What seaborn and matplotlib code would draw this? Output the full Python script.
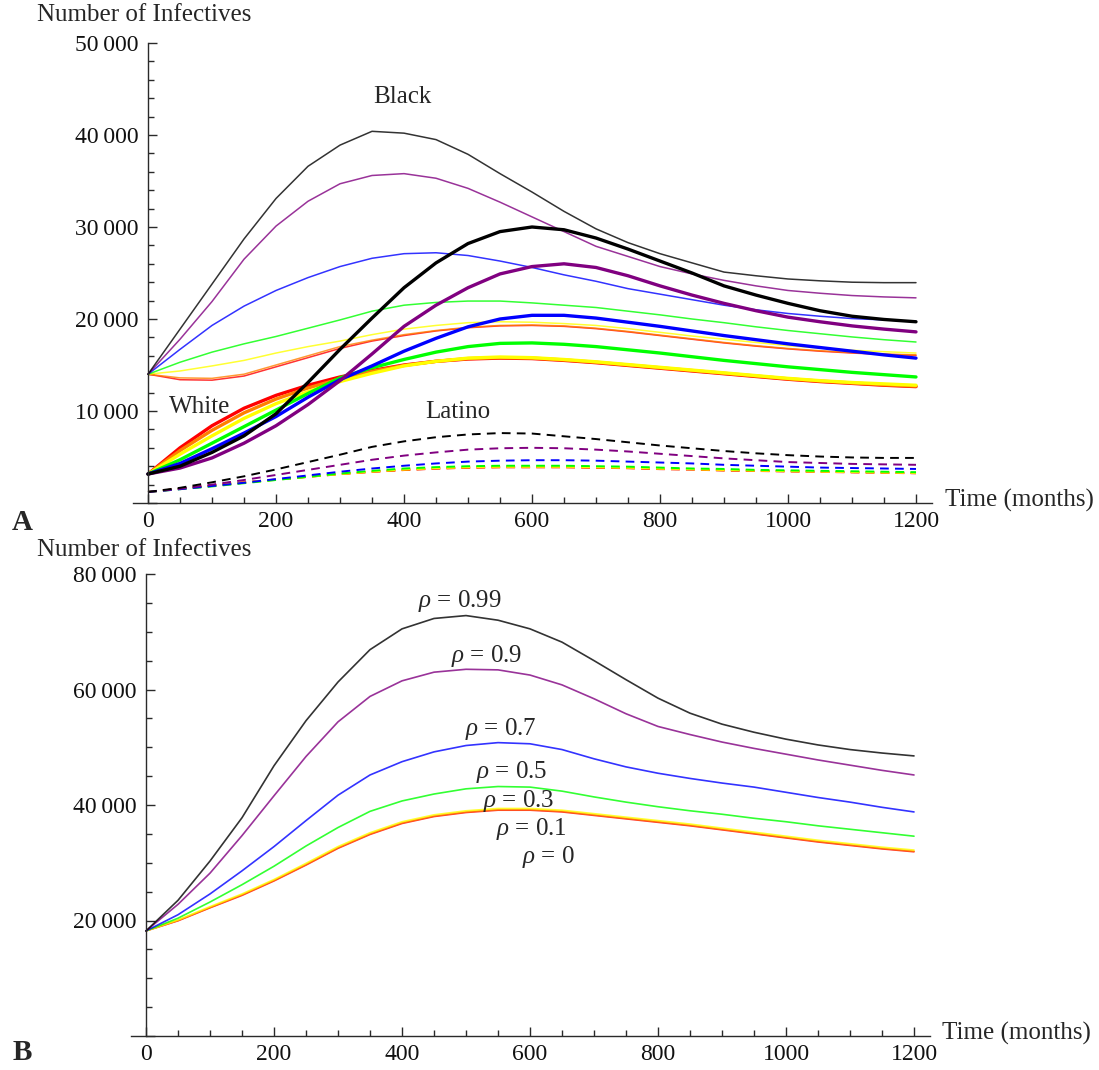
import matplotlib
matplotlib.use('Agg')  # no display
import matplotlib.pyplot as plt
from matplotlib.ticker import MultipleLocator, FuncFormatter
import seaborn as sns

# ---- data (time grid every 50 months) ----
months = list(range(0, 1201, 50))
rho_values = [0.99, 0.9, 0.7, 0.5, 0.3, 0.1, 0]
rho_colors = ['#000000', '#800080', '#0000ff', '#00ff00', '#ffff00', '#ff8000', '#ff0000']

# panel A, Black population (thin lines)
black_099 = [14000, 18900, 23800, 28700, 33100, 36600, 38900, 40400, 40200, 39500, 37900, 35800, 33800,
             31700, 29800, 28300, 27100, 26100, 25100, 24700, 24350, 24150, 24000, 23950, 23950]
black_09 = [14000, 17800, 21900, 26500, 30100, 32800, 34700, 35600, 35800, 35300, 34200, 32700, 31100,
            29500, 27900, 26800, 25700, 24900, 24200, 23600, 23100, 22800, 22550, 22400, 22300]
black_07 = [14000, 16700, 19300, 21400, 23100, 24500, 25700, 26600, 27100, 27200, 26900, 26300, 25600,
            24800, 24100, 23300, 22700, 22100, 21500, 21000, 20600, 20300, 20050, 19900, 19750]
black_05 = [14000, 15300, 16400, 17300, 18100, 19000, 19900, 20850, 21500, 21800, 21950, 21950, 21750,
            21500, 21250, 20850, 20450, 20000, 19600, 19150, 18750, 18400, 18050, 17750, 17500]
black_03 = [14000, 14350, 14900, 15500, 16300, 17000, 17600, 18300, 18900, 19300, 19600, 19700, 19650,
            19500, 19300, 18950, 18550, 18150, 17800, 17450, 17100, 16850, 16600, 16450, 16300]
black_01 = [14000, 13600, 13550, 14000, 15000, 16000, 17000, 17700, 18300, 18750, 19100, 19300, 19350,
            19250, 19000, 18650, 18250, 17850, 17450, 17100, 16800, 16550, 16350, 16200, 16100]
black_0 = [14000, 13400, 13350, 13800, 14800, 15800, 16800, 17600, 18200, 18700, 19050, 19250, 19300,
           19200, 18950, 18600, 18200, 17800, 17400, 17050, 16750, 16500, 16300, 16150, 16050]

# panel A, White population (thick lines)
white_099 = [3150, 4000, 5500, 7300, 9700, 13100, 16700, 20100, 23400, 26100, 28200, 29500, 30000,
             29700, 28800, 27600, 26300, 25000, 23600, 22600, 21700, 20900, 20300, 19950, 19700]
white_09 = [3150, 3800, 4900, 6500, 8400, 10700, 13300, 16200, 19200, 21500, 23400, 24900, 25700,
            26000, 25600, 24700, 23600, 22600, 21700, 20900, 20200, 19700, 19250, 18900, 18600]
white_07 = [3150, 4300, 5900, 7600, 9400, 11500, 13400, 14900, 16500, 17900, 19150, 20000, 20400,
            20400, 20100, 19650, 19200, 18700, 18200, 17750, 17300, 16900, 16500, 16100, 15750]
white_05 = [3150, 4700, 6500, 8300, 10100, 11900, 13600, 14700, 15600, 16400, 17000, 17350, 17400,
            17250, 17000, 16650, 16300, 15900, 15500, 15150, 14800, 14500, 14200, 13950, 13700]
white_03 = [3150, 5300, 7300, 9200, 10800, 12100, 13200, 14100, 14900, 15400, 15750, 15870, 15800,
            15600, 15350, 15050, 14750, 14450, 14150, 13850, 13550, 13300, 13100, 12950, 12800]
white_01 = [3150, 5700, 7900, 9800, 11300, 12500, 13500, 14300, 14950, 15400, 15700, 15800, 15750,
            15550, 15300, 15000, 14700, 14400, 14100, 13800, 13500, 13250, 13050, 12850, 12700]
white_0 = [3150, 6000, 8400, 10300, 11700, 12800, 13700, 14400, 15000, 15400, 15650, 15750, 15700,
           15500, 15250, 14950, 14650, 14350, 14050, 13750, 13450, 13200, 13000, 12800, 12650]

# panel A, Latino population (dashed lines)
latino_099 = [1200, 1650, 2250, 2900, 3650, 4450, 5250, 6100, 6700, 7150, 7450, 7600, 7550,
              7250, 6950, 6600, 6250, 5950, 5650, 5400, 5200, 5050, 4950, 4900, 4900]
latino_09 = [1200, 1550, 2000, 2500, 3050, 3600, 4150, 4700, 5150, 5500, 5800, 5950, 6000,
             5950, 5800, 5600, 5350, 5100, 4850, 4650, 4450, 4350, 4250, 4200, 4150]
latino_07 = [1200, 1500, 1850, 2200, 2600, 3000, 3400, 3750, 4050, 4300, 4500, 4600, 4650,
             4650, 4600, 4500, 4400, 4300, 4150, 4050, 3950, 3850, 3800, 3750, 3700]
latino_05 = [1200, 1500, 1800, 2150, 2500, 2850, 3200, 3500, 3750, 3900, 4000, 4050, 4050,
             4050, 4000, 3950, 3850, 3750, 3700, 3600, 3550, 3500, 3450, 3400, 3350]
latino_03 = [1200, 1520, 1850, 2200, 2520, 2850, 3150, 3420, 3650, 3800, 3900, 3950, 3950,
             3950, 3900, 3850, 3750, 3680, 3600, 3530, 3470, 3420, 3370, 3320, 3280]
latino_01 = [1200, 1550, 1900, 2250, 2550, 2850, 3150, 3400, 3600, 3750, 3850, 3900, 3900,
             3900, 3850, 3800, 3700, 3650, 3550, 3500, 3450, 3400, 3350, 3300, 3250]
latino_0 = [1200, 1560, 1910, 2260, 2550, 2840, 3130, 3380, 3580, 3730, 3830, 3880, 3880,
            3880, 3830, 3780, 3680, 3630, 3530, 3480, 3430, 3380, 3330, 3280, 3230]

# panel B, total
total_099 = [18200, 23500, 30300, 37800, 46800, 54600, 61300, 66900, 70500, 72300, 72800, 72000, 70500,
             68200, 65000, 61700, 58500, 55900, 54000, 52600, 51400, 50400, 49600, 49000, 48500]
total_09 = [18200, 22800, 28200, 34700, 41600, 48400, 54400, 58800, 61500, 63000, 63500, 63400, 62500,
            60800, 58400, 55800, 53600, 52200, 50900, 49800, 48800, 47800, 46900, 46000, 45200]
total_07 = [18200, 21000, 24600, 28600, 32800, 37300, 41700, 45200, 47500, 49200, 50300, 50800, 50600,
            49600, 48000, 46600, 45500, 44600, 43800, 43100, 42200, 41300, 40500, 39600, 38800]
total_05 = [18200, 20400, 23200, 26200, 29400, 32900, 36100, 38900, 40700, 41900, 42800, 43200, 43100,
            42400, 41400, 40500, 39700, 39000, 38400, 37700, 37100, 36400, 35800, 35200, 34600]
total_03 = [18200, 20100, 22400, 24600, 27100, 29900, 32800, 35200, 37100, 38300, 39000, 39400, 39400,
            39100, 38500, 37900, 37300, 36700, 36000, 35300, 34600, 33900, 33300, 32700, 32200]
total_01 = [18200, 20000, 22250, 24450, 26950, 29700, 32600, 35000, 36900, 38100, 38800, 39200, 39200,
            38900, 38300, 37700, 37100, 36500, 35800, 35100, 34400, 33700, 33100, 32500, 32000]
total_0 = [18200, 19950, 22200, 24350, 26850, 29600, 32500, 34900, 36800, 38000, 38700, 39100, 39100,
           38800, 38200, 37600, 37000, 36400, 35700, 35000, 34300, 33600, 33000, 32400, 31900]

black_group = [black_099, black_09, black_07, black_05, black_03, black_01, black_0]
white_group = [white_099, white_09, white_07, white_05, white_03, white_01, white_0]
latino_group = [latino_099, latino_09, latino_07, latino_05, latino_03, latino_01, latino_0]
total_group = [total_099, total_09, total_07, total_05, total_03, total_01, total_0]

# ---- style ----
sns.set_style('ticks')
plt.rcParams['font.family'] = ['Liberation Serif', 'DejaVu Serif']
plt.rcParams['mathtext.fontset'] = 'custom'
plt.rcParams['mathtext.rm'] = 'Liberation Serif'
plt.rcParams['mathtext.it'] = 'Liberation Serif:italic'

W, H = 1099, 1070
fig = plt.figure(figsize=(W / 100, H / 100), dpi=100)
axis_color = '#2a2a2a'
text_size = 18


def draw_group(ax, group, lw, dashed=False, alpha=1.0):
    # rho = 0 first so rho = 0.99 ends up on top
    for vals, color in zip(group[::-1], rho_colors[::-1]):
        sns.lineplot(x=months, y=vals, ax=ax, color=color, lw=lw, alpha=alpha, legend=False)
        ax.lines[-1].set_solid_joinstyle('round')
        if dashed:
            ax.lines[-1].set_dashes([4.5, 3.2])


def style_axes(ax, ymax, ymajor, yminor):
    ax.set_xlim(-23, 1225)
    ax.set_ylim(0, ymax)
    for side in ['top', 'right']:
        ax.spines[side].set_visible(False)
    ax.spines['left'].set_position(('data', 0))
    for side in ['left', 'bottom']:
        ax.spines[side].set_color(axis_color)
        ax.spines[side].set_linewidth(1.0)
    ax.xaxis.set_major_locator(MultipleLocator(200))
    ax.xaxis.set_minor_locator(MultipleLocator(50))
    ax.yaxis.set_major_locator(MultipleLocator(ymajor))
    ax.yaxis.set_minor_locator(MultipleLocator(yminor))
    ax.xaxis.set_major_formatter(FuncFormatter(lambda v, p: f"{int(round(v))}"))
    ax.yaxis.set_major_formatter(FuncFormatter(
        lambda v, p: '' if v <= 0 else f"{int(round(v)):,}".replace(',', '\u2009')))
    ax.tick_params(which='both', direction='in', color=axis_color, width=1.0, labelsize=17,
                   labelcolor='#111111')
    ax.tick_params(which='major', length=6.5)
    ax.tick_params(which='minor', length=4.5)
    ax.tick_params(axis='y', pad=7)
    ax.tick_params(axis='x', pad=6)
    ax.set_xlabel('')
    ax.set_ylabel('')
    ax.set_facecolor('none')


# ---- panel A ----
axA = fig.add_axes([133.3 / W, (H - 503) / H, 798.7 / W, 460 / H])
draw_group(axA, black_group, 1.1, alpha=0.8)
draw_group(axA, white_group, 2.4)
draw_group(axA, latino_group, 1.4, dashed=True)
style_axes(axA, 50000, 10000, 2000)
axA.text(397, 44100, 'Black', fontsize=text_size, ha='center', va='center')
axA.text(80, 10450, 'White', fontsize=text_size, ha='center', va='center')
axA.text(484, 9900, 'Latino', fontsize=text_size, ha='center', va='center')

# ---- panel B ----
axB = fig.add_axes([131.3 / W, (H - 1036) / H, 798.7 / W, 462 / H])
draw_group(axB, total_group, 1.2, alpha=0.8)
style_axes(axB, 80000, 20000, 5000)
rho_label_pos = [(491, 75300), (533, 65800), (555, 53200), (572, 45700),
                 (583, 40700), (602, 35900), (628, 31000)]
for rho, (tx, ty) in zip(rho_values, rho_label_pos):
    axB.text(tx, ty, r'$\rho$ = ' + f'{rho:g}', fontsize=text_size, ha='center', va='center')

# ---- outer labels ----
for y_px in (15, 550):
    fig.text(37 / W, 1 - y_px / H, 'Number of Infectives', fontsize=text_size, ha='left', va='center')
fig.text(945 / W, 1 - 500 / H, 'Time (months)', fontsize=text_size, ha='left', va='center')
fig.text(942 / W, 1 - 1033 / H, 'Time (months)', fontsize=text_size, ha='left', va='center')
fig.text(22 / W, 1 - 523 / H, 'A', fontsize=21, fontweight='bold', ha='center', va='center')
fig.text(22 / W, 1 - 1053 / H, 'B', fontsize=21, fontweight='bold', ha='center', va='center')

fig.savefig('out.png', dpi=100, facecolor='white')
